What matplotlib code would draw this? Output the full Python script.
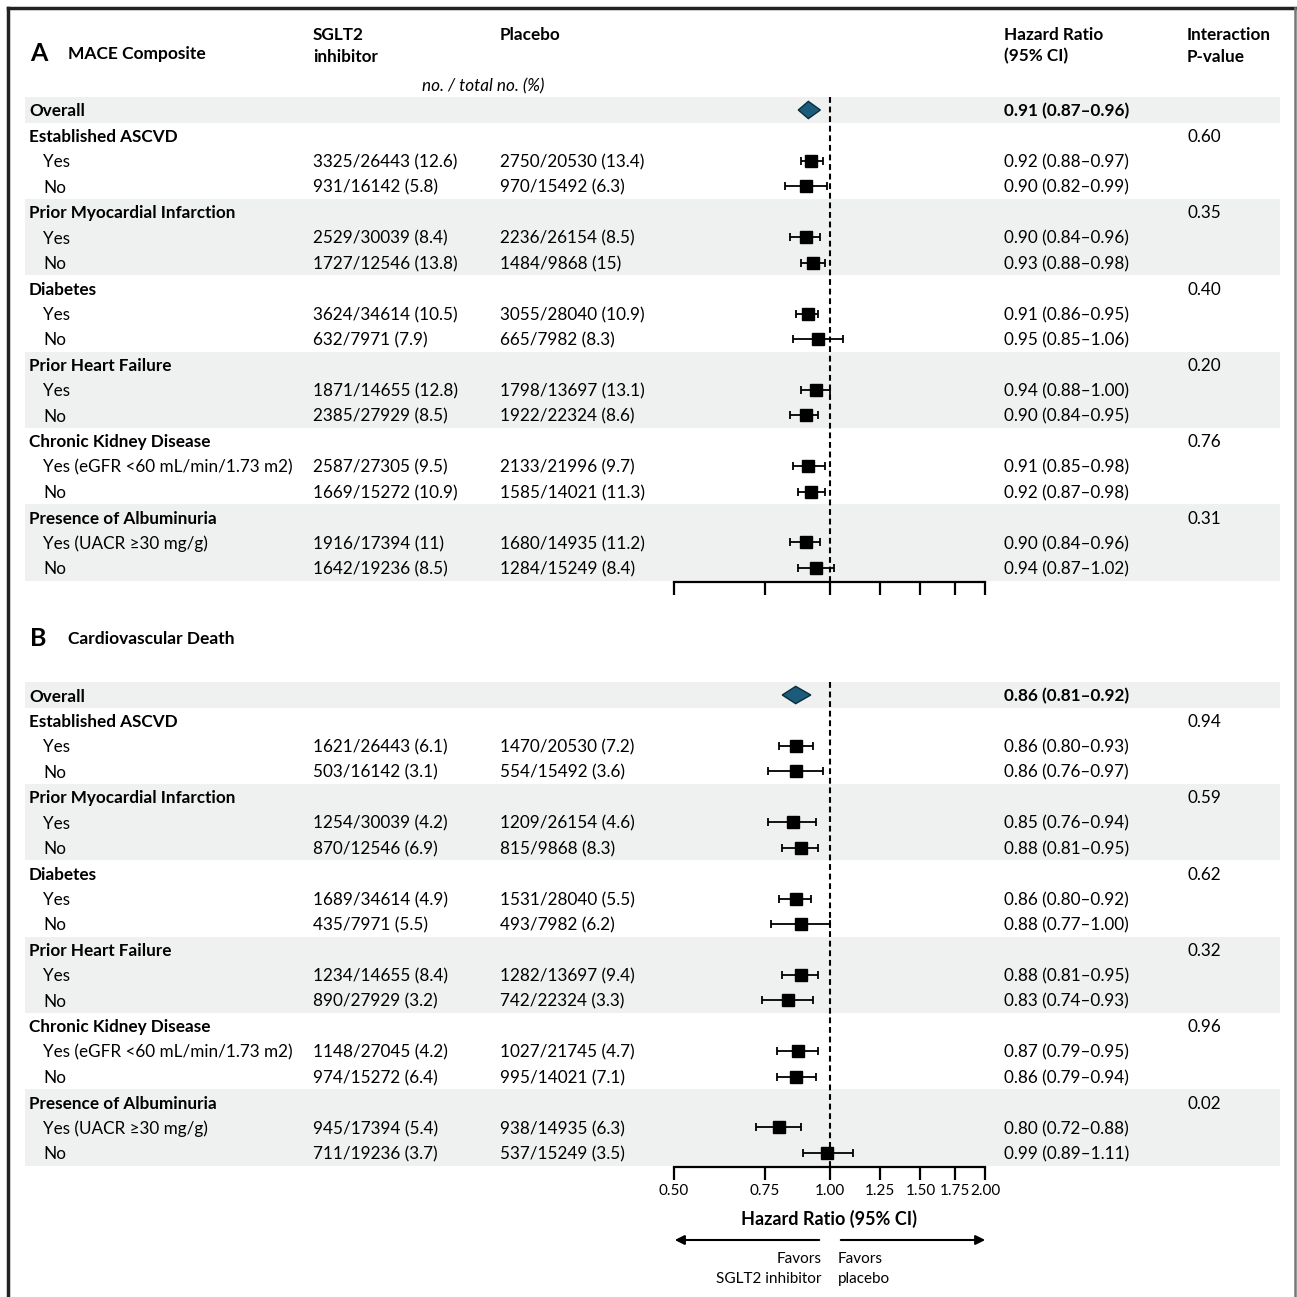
import numpy as np
import matplotlib.pyplot as plt
from matplotlib.patches import Polygon

plt.rcParams['font.family'] = ['Lato', 'DejaVu Sans']

# Row structure (same for both panels)
row_labels = ["Overall", "Established ASCVD", "Yes", "No",
              "Prior Myocardial Infarction", "Yes", "No",
              "Diabetes", "Yes", "No",
              "Prior Heart Failure", "Yes", "No",
              "Chronic Kidney Disease", "Yes (eGFR <60 mL/min/1.73 m2)", "No",
              "Presence of Albuminuria", "Yes (UACR ≥30 mg/g)", "No"]
row_kind = ["overall", "group", "sub", "sub", "group", "sub", "sub",
            "group", "sub", "sub", "group", "sub", "sub",
            "group", "sub", "sub", "group", "sub", "sub"]
shaded_rows = [0, 4, 5, 6, 10, 11, 12, 16, 17, 18]

# Panel A - MACE composite
mace_sglt2 = ["", "", "3325/26443 (12.6)", "931/16142 (5.8)", "", "2529/30039 (8.4)", "1727/12546 (13.8)",
              "", "3624/34614 (10.5)", "632/7971 (7.9)", "", "1871/14655 (12.8)", "2385/27929 (8.5)",
              "", "2587/27305 (9.5)", "1669/15272 (10.9)", "", "1916/17394 (11)", "1642/19236 (8.5)"]
mace_placebo = ["", "", "2750/20530 (13.4)", "970/15492 (6.3)", "", "2236/26154 (8.5)", "1484/9868 (15)",
                "", "3055/28040 (10.9)", "665/7982 (8.3)", "", "1798/13697 (13.1)", "1922/22324 (8.6)",
                "", "2133/21996 (9.7)", "1585/14021 (11.3)", "", "1680/14935 (11.2)", "1284/15249 (8.4)"]
mace_hr = [0.91, None, 0.92, 0.90, None, 0.90, 0.93, None, 0.91, 0.95, None, 0.94, 0.90,
           None, 0.91, 0.92, None, 0.90, 0.94]
mace_lo = [0.87, None, 0.88, 0.82, None, 0.84, 0.88, None, 0.86, 0.85, None, 0.88, 0.84,
           None, 0.85, 0.87, None, 0.84, 0.87]
mace_hi = [0.96, None, 0.97, 0.99, None, 0.96, 0.98, None, 0.95, 1.06, None, 1.00, 0.95,
           None, 0.98, 0.98, None, 0.96, 1.02]
mace_p = ["", "0.60", "", "", "0.35", "", "", "0.40", "", "", "0.20", "", "",
          "0.76", "", "", "0.31", "", ""]

# Panel B - cardiovascular death
cvd_sglt2 = ["", "", "1621/26443 (6.1)", "503/16142 (3.1)", "", "1254/30039 (4.2)", "870/12546 (6.9)",
             "", "1689/34614 (4.9)", "435/7971 (5.5)", "", "1234/14655 (8.4)", "890/27929 (3.2)",
             "", "1148/27045 (4.2)", "974/15272 (6.4)", "", "945/17394 (5.4)", "711/19236 (3.7)"]
cvd_placebo = ["", "", "1470/20530 (7.2)", "554/15492 (3.6)", "", "1209/26154 (4.6)", "815/9868 (8.3)",
               "", "1531/28040 (5.5)", "493/7982 (6.2)", "", "1282/13697 (9.4)", "742/22324 (3.3)",
               "", "1027/21745 (4.7)", "995/14021 (7.1)", "", "938/14935 (6.3)", "537/15249 (3.5)"]
cvd_hr = [0.86, None, 0.86, 0.86, None, 0.85, 0.88, None, 0.86, 0.88, None, 0.88, 0.83,
          None, 0.87, 0.86, None, 0.80, 0.99]
cvd_lo = [0.81, None, 0.80, 0.76, None, 0.76, 0.81, None, 0.80, 0.77, None, 0.81, 0.74,
          None, 0.79, 0.79, None, 0.72, 0.89]
cvd_hi = [0.92, None, 0.93, 0.97, None, 0.94, 0.95, None, 0.92, 1.00, None, 0.95, 0.93,
          None, 0.95, 0.94, None, 0.88, 1.11]
cvd_p = ["", "0.94", "", "", "0.59", "", "", "0.62", "", "", "0.32", "", "",
         "0.96", "", "", "0.02", "", ""]

hr_ticks = [0.5, 0.75, 1.0, 1.25, 1.5, 1.75, 2.0]

W = H = 1297
fig = plt.figure(figsize=(W / 100, H / 100), dpi=100)
bg = fig.add_axes([0, 0, 1, 1])
bg.set_xlim(0, W)
bg.set_ylim(H, 0)
bg.axis('off')

# frame
bg.plot([8, 8], [8, H], color='#222222', lw=2.5, clip_on=False)
bg.plot([8, 1295], [8, 8], color='#222222', lw=2.5, clip_on=False)
bg.plot([1295, 1295], [8, H], color='#777777', lw=1.8, clip_on=False)

dy = 25.44
fs = 12.3
off = 1.5  # nudge text down a little to sit on row centres
shade = '#eff1f0'


def draw_panel(y0, letter, title, y_title, sglt2, placebo, hr, lo, hi, pvals, labels_on):
    n = len(row_labels)
    bg.text(30, y_title + off, letter, fontsize=18, fontweight='bold', va='center')
    bg.text(68, y_title + off + 1, title, fontsize=12.5, fontweight='bold', va='center')

    for i in range(n):
        y = y0 + i * dy
        if i in shaded_rows:
            bg.fill_between([25, 1280], y - dy / 2, y + dy / 2, color=shade, lw=0, zorder=0)
        kind = row_kind[i]
        yt = y + off
        if kind == 'sub':
            bg.text(43, yt, row_labels[i], fontsize=fs, va='center')
        else:
            bg.text(29, yt, row_labels[i], fontsize=fs, va='center', fontweight='bold')
        bg.text(313, yt, sglt2[i], fontsize=fs, va='center')
        bg.text(500, yt, placebo[i], fontsize=fs, va='center')
        if hr[i] is not None:
            s = f"{hr[i]:.2f} ({lo[i]:.2f}–{hi[i]:.2f})"
            bg.text(1004, yt, s, fontsize=fs, va='center',
                    fontweight='bold' if kind == 'overall' else 'normal')
        bg.text(1187, yt, pvals[i], fontsize=fs, va='center')

    # forest axes
    top_px = y0 - dy / 2
    bot_px = y0 + (n - 1 + 0.55) * dy
    ax = fig.add_axes([674 / W, 1 - bot_px / H, (985 - 674) / W, (bot_px - top_px) / H])
    ax.set_facecolor('none')
    ax.set_xscale('log')
    ax.set_xlim(0.5, 2.0)
    ax.set_ylim(n - 1 + 0.55, -0.5)
    for sp in ['top', 'left', 'right']:
        ax.spines[sp].set_visible(False)
    ax.spines['bottom'].set_linewidth(1.6)
    ax.set_yticks([])
    ax.set_xticks(hr_ticks)
    ax.minorticks_off()
    ax.tick_params(axis='x', direction='out', length=9, width=1.6, pad=3, labelsize=11)
    if labels_on:
        ax.set_xticklabels([f"{t:.2f}" for t in hr_ticks])
    else:
        ax.set_xticklabels([])

    ax.axvline(1.0, color='black', lw=1.5, ls=(0, (2.8, 1.8)), zorder=1)

    rows = [i for i in range(n) if hr[i] is not None and row_kind[i] == 'sub']
    est = np.array([hr[i] for i in rows])
    lo_a = np.array([lo[i] for i in rows])
    hi_a = np.array([hi[i] for i in rows])
    ax.errorbar(est, rows, xerr=[est - lo_a, hi_a - est], fmt='s', color='black',
                ms=8, elinewidth=1.3, capsize=3, capthick=1.3, zorder=3)

    # overall diamond
    ax.add_patch(Polygon([(lo[0], 0), (hr[0], -0.34), (hi[0], 0), (hr[0], 0.34)],
                         closed=True, facecolor='#1c5c7b', edgecolor='#0b2c3c', lw=1, zorder=3))
    return ax


# header
bg.text(313, 34 + off, "SGLT2", fontsize=fs, fontweight='bold', va='center')
bg.text(313, 55 + off, "inhibitor", fontsize=fs, fontweight='bold', va='center')
bg.text(500, 34 + off, "Placebo", fontsize=fs, fontweight='bold', va='center')
bg.text(1004, 34 + off, "Hazard Ratio", fontsize=fs, fontweight='bold', va='center')
bg.text(1004, 55 + off, "(95% CI)", fontsize=fs, fontweight='bold', va='center')
bg.text(1187, 34 + off, "Interaction", fontsize=fs, fontweight='bold', va='center')
bg.text(1187, 55 + off, "P-value", fontsize=fs, fontweight='bold', va='center')
bg.text(483, 85 + off, "no. / total no. (%)", fontsize=fs, style='italic', va='center', ha='center')

draw_panel(110, "A", "MACE Composite", 52, mace_sglt2, mace_placebo, mace_hr, mace_lo, mace_hi,
           mace_p, False)
draw_panel(695, "B", "Cardiovascular Death", 637, cvd_sglt2, cvd_placebo, cvd_hr, cvd_lo, cvd_hi,
           cvd_p, True)

# axis title and direction arrows
bg.text(829, 1219, "Hazard Ratio (95% CI)", fontsize=13, fontweight='bold', ha='center', va='center')
bg.annotate("", xy=(672, 1240), xytext=(822, 1240),
            arrowprops=dict(arrowstyle='-|>', color='black', lw=1.5, mutation_scale=14))
bg.annotate("", xy=(988, 1240), xytext=(838, 1240),
            arrowprops=dict(arrowstyle='-|>', color='black', lw=1.5, mutation_scale=14))
bg.text(822, 1259, "Favors", fontsize=11, ha='right', va='center')
bg.text(822, 1279, "SGLT2 inhibitor", fontsize=11, ha='right', va='center')
bg.text(838, 1259, "Favors", fontsize=11, ha='left', va='center')
bg.text(838, 1279, "placebo", fontsize=11, ha='left', va='center')

fig.savefig("out.png", dpi=100)
